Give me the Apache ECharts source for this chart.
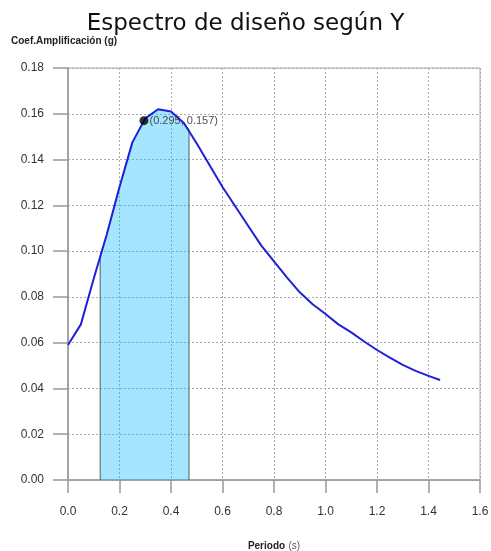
<!DOCTYPE html>
<html>
<head>
<meta charset="utf-8">
<script src="https://cdn.jsdelivr.net/npm/echarts@6/dist/echarts.min.js"></script>
<style>
  html, body { margin: 0; padding: 0; background: #fff; }
  #chart { width: 491px; height: 551px; }
</style>
</head>
<body>
<div id="chart"></div>
<script>
// periodo (s) y coeficiente (g)
const periods = [0, 0.05, 0.1, 0.15, 0.2, 0.25, 0.3, 0.35, 0.4, 0.45, 0.5, 0.55, 0.6, 0.65, 0.7, 0.75, 0.8, 0.85, 0.9, 0.95, 1.0, 1.05, 1.1, 1.15, 1.2, 1.25, 1.3, 1.35, 1.4, 1.445];
const coefs = [0.059, 0.068, 0.088, 0.107, 0.128, 0.1475, 0.158, 0.162, 0.161, 0.156, 0.147, 0.1375, 0.128, 0.1195, 0.111, 0.1025, 0.0955, 0.0885, 0.082, 0.0768, 0.0725, 0.068, 0.0645, 0.0605, 0.0568, 0.0535, 0.0503, 0.0477, 0.0455, 0.0437];

// zona sombreada bajo la curva
const bandStart = [0.125, 0.098];
const bandEnd = [0.47, 0.153];

const markPoint = [0.295, 0.157];

const xTicks = [0, 1.6, 0.2];
const yTicks = [0, 0.18, 0.02];

const chart = echarts.init(document.getElementById('chart'));

const curve = periods.map((t, i) => [t, coefs[i]]);
const band = [[bandStart[0], 0], bandStart]
  .concat(curve.filter((p) => p[0] > bandStart[0] && p[0] < bandEnd[0]))
  .concat([bandEnd, [bandEnd[0], 0]]);

const font = 'Liberation Sans, Arial, sans-serif';

chart.setOption({
  animation: false,
  title: {
    text: 'Espectro de diseño según Y',
    left: 'center',
    top: 8,
    textStyle: { fontFamily: 'DejaVu Sans, Verdana, sans-serif', fontSize: 23, fontWeight: 'normal', color: '#111' },
  },
  graphic: [{
    type: 'text',
    left: 11,
    top: 36,
    style: { text: 'Coef.Amplificación (g)', font: 'bold 10px ' + font, fill: '#222' },
  }],
  grid: {
    left: 68, top: 68, width: 412, height: 412,
    outerBoundsMode: 'none', containLabel: false,
    show: true, borderColor: '#aaa', borderWidth: 1,
  },
  xAxis: {
    type: 'value',
    min: xTicks[0],
    max: xTicks[1],
    interval: xTicks[2],
    name: '{b|Periodo} {n|(s)}',
    nameLocation: 'middle',
    nameGap: 60,
    nameTextStyle: {
      rich: {
        b: { fontFamily: font, fontSize: 10, fontWeight: 'bold', color: '#222' },
        n: { fontFamily: font, fontSize: 10, color: '#555' },
      },
    },
    axisLine: { lineStyle: { color: '#999', width: 1.5 } },
    axisTick: { show: true, length: 13, lineStyle: { color: '#999', width: 1.5 } },
    axisLabel: { fontFamily: font, fontSize: 12, color: '#333', margin: 26, formatter: (v) => v.toFixed(1) },
    splitLine: { show: true, lineStyle: { color: '#aaa', type: [2, 2], width: 1 } },
  },
  yAxis: {
    type: 'value',
    min: yTicks[0],
    max: yTicks[1],
    interval: yTicks[2],
    axisLine: { show: true, lineStyle: { color: '#999', width: 1.5 } },
    axisTick: { show: true, length: 15, lineStyle: { color: '#999', width: 1.5 } },
    axisLabel: { fontFamily: font, fontSize: 12, color: '#333', margin: 24, formatter: (v) => v.toFixed(2) },
    splitLine: { show: true, lineStyle: { color: '#aaa', type: [2, 2], width: 1 } },
  },
  series: [
    {
      type: 'line',
      data: band,
      symbol: 'none',
      z: 1,
      lineStyle: { color: '#44606a', width: 1 },
      areaStyle: { color: 'rgba(0, 180, 250, 0.5)', origin: 'start' },
      silent: true,
    },
    {
      type: 'line',
      data: curve,
      symbol: 'none',
      z: 3,
      lineStyle: { color: '#2020d8', width: 2 },
    },
    {
      type: 'scatter',
      data: [markPoint],
      symbolSize: 9,
      z: 4,
      itemStyle: { color: '#000' },
      label: {
        show: true,
        position: 'right',
        distance: 1,
        formatter: '(' + markPoint[0] + ', ' + markPoint[1] + ')',
        fontFamily: font,
        fontSize: 11,
        color: '#222',
      },
    },
  ],
});
</script>
</body>
</html>
